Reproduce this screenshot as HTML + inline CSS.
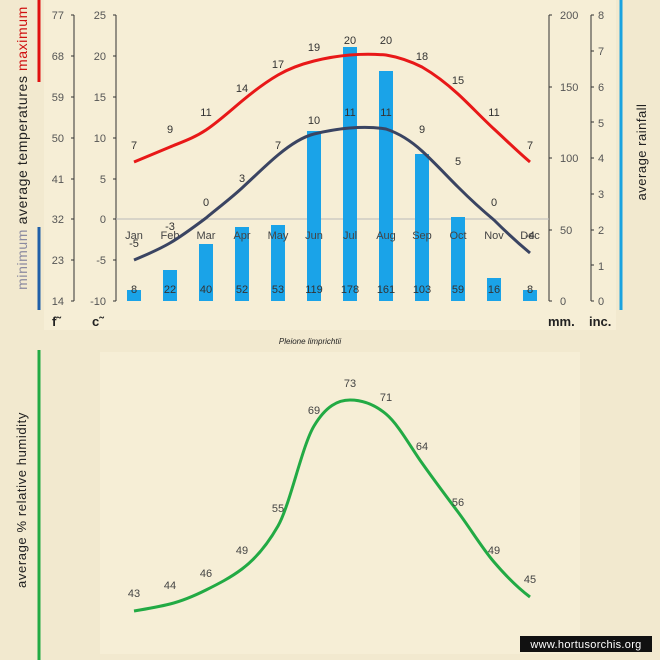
<!DOCTYPE html>
<html><head><meta charset="utf-8"><style>
body{margin:0;background:#f2e9cf;}
svg{display:block;font-family:"Liberation Sans",sans-serif;}
</style></head><body>
<svg width="660" height="660" viewBox="0 0 660 660" xmlns="http://www.w3.org/2000/svg">
<rect width="660" height="660" fill="#f2e9cf"/>
<rect x="44" y="0" width="572" height="330" fill="#f6eed6"/>
<rect x="100" y="352" width="480" height="302" fill="#f6eed6"/>
<line x1="39" y1="0" x2="39" y2="82" stroke="#e01010" stroke-width="3"/>
<line x1="39" y1="227" x2="39" y2="310" stroke="#1f5fa8" stroke-width="3"/>
<line x1="621" y1="0" x2="621" y2="310" stroke="#1aa3e0" stroke-width="3"/>
<line x1="39" y1="350" x2="39" y2="660" stroke="#22aa44" stroke-width="3"/>
<text transform="translate(27,148) rotate(-90)" font-size="14" letter-spacing="0.6" text-anchor="middle"><tspan fill="#8a8aa0">minimum </tspan><tspan fill="#222"> average  temperatures </tspan><tspan fill="#d01010"> maximum</tspan></text>
<text transform="translate(646,152) rotate(-90)" font-size="13" letter-spacing="0.5" text-anchor="middle" fill="#222">average  rainfall</text>
<text transform="translate(26,500) rotate(-90)" font-size="13" letter-spacing="0.6" text-anchor="middle" fill="#222">average %  relative humidity</text>
<g stroke="#333" stroke-width="1" fill="none">
<line x1="74" y1="15" x2="74" y2="301"/><line x1="116" y1="15" x2="116" y2="301"/>
<line x1="549" y1="15" x2="549" y2="301"/><line x1="591" y1="15" x2="591" y2="301"/>
</g>
<g fill="#555" font-size="11" text-anchor="end">
<text x="64" y="19">77</text><text x="64" y="60">68</text><text x="64" y="101">59</text><text x="64" y="142">50</text><text x="64" y="183">41</text><text x="64" y="223">32</text><text x="64" y="264">23</text><text x="64" y="305">14</text>
<text x="106" y="19">25</text><text x="106" y="60">20</text><text x="106" y="101">15</text><text x="106" y="142">10</text><text x="106" y="183">5</text><text x="106" y="223">0</text><text x="106" y="264">-5</text><text x="106" y="305">-10</text>
</g>
<g fill="#555" font-size="11">
<text x="560" y="19">200</text><text x="560" y="91">150</text><text x="560" y="162">100</text><text x="560" y="234">50</text><text x="560" y="305">0</text>
<text x="598" y="19">8</text><text x="598" y="55">7</text><text x="598" y="91">6</text><text x="598" y="127">5</text><text x="598" y="162">4</text><text x="598" y="198">3</text><text x="598" y="234">2</text><text x="598" y="270">1</text><text x="598" y="305">0</text>
</g>
<g stroke="#333">
<line x1="71" y1="15" x2="74" y2="15"/><line x1="71" y1="56" x2="74" y2="56"/><line x1="71" y1="97" x2="74" y2="97"/><line x1="71" y1="138" x2="74" y2="138"/><line x1="71" y1="179" x2="74" y2="179"/><line x1="71" y1="219" x2="74" y2="219"/><line x1="71" y1="260" x2="74" y2="260"/><line x1="71" y1="301" x2="74" y2="301"/>
<line x1="113" y1="15" x2="116" y2="15"/><line x1="113" y1="56" x2="116" y2="56"/><line x1="113" y1="97" x2="116" y2="97"/><line x1="113" y1="138" x2="116" y2="138"/><line x1="113" y1="179" x2="116" y2="179"/><line x1="113" y1="219" x2="116" y2="219"/><line x1="113" y1="260" x2="116" y2="260"/><line x1="113" y1="301" x2="116" y2="301"/>
<line x1="549" y1="15" x2="552" y2="15"/><line x1="549" y1="87" x2="552" y2="87"/><line x1="549" y1="158" x2="552" y2="158"/><line x1="549" y1="230" x2="552" y2="230"/><line x1="549" y1="301" x2="552" y2="301"/>
<line x1="591" y1="15" x2="594" y2="15"/><line x1="591" y1="51" x2="594" y2="51"/><line x1="591" y1="87" x2="594" y2="87"/><line x1="591" y1="122" x2="594" y2="122"/><line x1="591" y1="158" x2="594" y2="158"/><line x1="591" y1="194" x2="594" y2="194"/><line x1="591" y1="230" x2="594" y2="230"/><line x1="591" y1="265" x2="594" y2="265"/><line x1="591" y1="301" x2="594" y2="301"/>
</g>
<line x1="116" y1="219" x2="549" y2="219" stroke="#bbb" stroke-width="1"/>
<g font-size="13" fill="#222" font-weight="bold"><text x="52" y="326">f˜</text><text x="92" y="326">c˜</text><text x="548" y="326">mm.</text><text x="589" y="326">inc.</text></g>
<text x="310" y="344" font-size="8" font-style="italic" text-anchor="middle" fill="#222">Pleione limprichtii</text>
<g fill="#1aa3e8">
<rect x="127" y="290" width="14" height="11"/><rect x="163" y="270" width="14" height="31"/><rect x="199" y="244" width="14" height="57"/><rect x="235" y="227" width="14" height="74"/><rect x="271" y="225" width="14" height="76"/><rect x="307" y="131" width="14" height="170"/><rect x="343" y="47" width="14" height="254"/><rect x="379" y="71" width="14" height="230"/><rect x="415" y="154" width="14" height="147"/><rect x="451" y="217" width="14" height="84"/><rect x="487" y="278" width="14" height="23"/><rect x="523" y="290" width="14" height="11"/>
</g>
<g font-size="11" fill="#444" text-anchor="middle">
<text x="134" y="239">Jan</text><text x="170" y="239">Feb</text><text x="206" y="239">Mar</text><text x="242" y="239">Apr</text><text x="278" y="239">May</text><text x="314" y="239">Jun</text><text x="350" y="239">Jul</text><text x="386" y="239">Aug</text><text x="422" y="239">Sep</text><text x="458" y="239">Oct</text><text x="494" y="239">Nov</text><text x="530" y="239">Dec</text>
</g>
<g font-size="11" fill="#333" text-anchor="middle">
<text x="134" y="293">8</text><text x="170" y="293">22</text><text x="206" y="293">40</text><text x="242" y="293">52</text><text x="278" y="293">53</text><text x="314" y="293">119</text><text x="350" y="293">178</text><text x="386" y="293">161</text><text x="422" y="293">103</text><text x="458" y="293">59</text><text x="494" y="293">16</text><text x="530" y="293">8</text>
</g>
<path d="M134,162 C146,157 158,152 170,147 C182,142 194,138 206,130 C218,122 230,111 242,101 C254,91 266,82 278,75 C290,68 302,64 314,61 C326,58 338,56 350,55 C362,54 374,54 386,55 C398,57 410,61 422,67 C434,74 446,83 458,94 C470,105 482,118 494,129 C506,140 518,152 530,162" stroke="#e81818" stroke-width="3" fill="none"/>
<path d="M134,260 C146,255 158,250 170,243 C182,236 194,227 206,218 C218,208 230,199 242,188 C254,177 266,165 278,155 C290,145 302,137 314,134 C326,131 338,129 350,128 C362,127 374,127 386,129 C398,133 410,140 422,151 C434,162 446,175 458,187 C470,199 482,210 494,220 C506,232 518,243 530,253" stroke="#3a4462" stroke-width="3" fill="none"/>
<g font-size="11" fill="#333" text-anchor="middle">
<text x="134" y="149">7</text><text x="170" y="133">9</text><text x="206" y="116">11</text><text x="242" y="92">14</text><text x="278" y="68">17</text><text x="314" y="51">19</text><text x="350" y="44">20</text><text x="386" y="44">20</text><text x="422" y="60">18</text><text x="458" y="84">15</text><text x="494" y="116">11</text><text x="530" y="149">7</text>
<text x="134" y="247">-5</text><text x="170" y="230">-3</text><text x="206" y="206">0</text><text x="242" y="182">3</text><text x="278" y="149">7</text><text x="314" y="124">10</text><text x="350" y="116">11</text><text x="386" y="116">11</text><text x="422" y="133">9</text><text x="458" y="165">5</text><text x="494" y="206">0</text><text x="530" y="239">-4</text>
</g>
<path d="M134,611 C146,609 158,607 170,604 C182,601 194,596 206,590 C218,584 230,578 242,569 C254,560 266,547 278,526 C290,505 302,446 314,426 C326,406 338,400 350,400 C362,400 374,404 386,414 C398,424 410,446 422,463 C434,480 446,496 458,512 C470,528 482,548 494,562 C506,576 518,588 530,597" stroke="#22aa44" stroke-width="3" fill="none"/>
<g font-size="11" fill="#444" text-anchor="middle">
<text x="134" y="597">43</text><text x="170" y="589">44</text><text x="206" y="577">46</text><text x="242" y="554">49</text><text x="278" y="512">55</text><text x="314" y="414">69</text><text x="350" y="387">73</text><text x="386" y="401">71</text><text x="422" y="450">64</text><text x="458" y="506">56</text><text x="494" y="554">49</text><text x="530" y="583">45</text>
</g>
<rect x="520" y="636" width="132" height="16" fill="#111"/>
<text x="586" y="648" font-size="11" fill="#fff" text-anchor="middle" letter-spacing="0.3">www.hortusorchis.org</text>
</svg>
</body></html>
